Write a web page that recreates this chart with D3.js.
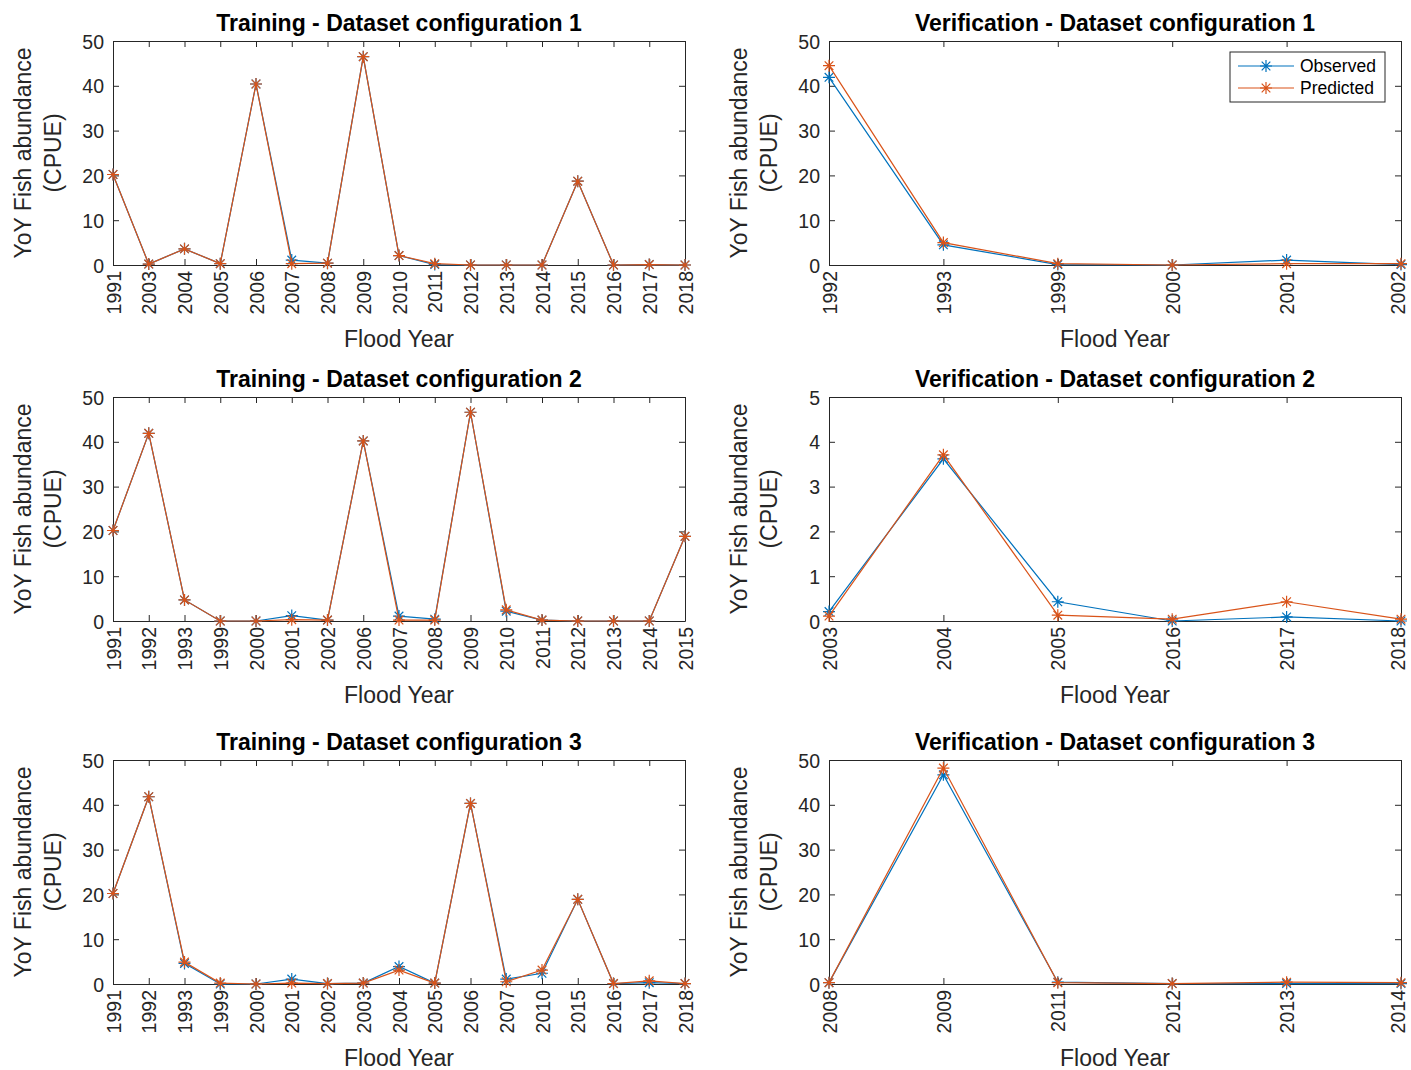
<!DOCTYPE html>
<html>
<head>
<meta charset="utf-8">
<script src="https://cdn.jsdelivr.net/npm/d3@7"></script>
<style>
  body { margin: 0; background: #fff; }
  svg { font-family: "Liberation Sans", Arial, Helvetica, sans-serif; }
</style>
</head>
<body>
<svg id="chart" width="1411" height="1070"></svg>
<script>
// data
let train1Years = ['1991','2003','2004','2005','2006','2007','2008','2009','2010','2011','2012','2013','2014','2015','2016','2017','2018'];
let train1Obs  = [20.2, 0.2, 3.6, 0.3, 40.4, 1.1, 0.4, 46.5, 2.1, 0.1, 0, 0, 0, 18.7, 0, 0.1, 0];
let train1Pred = [20.2, 0.2, 3.6, 0.3, 40.4, 0.3, 0.4, 46.5, 2.1, 0.3, 0, 0, 0, 18.7, 0, 0.1, 0];

let verif1Years = ['1992','1993','1999','2000','2001','2002'];
let verif1Obs  = [41.9, 4.5, 0.1, 0, 1.1, 0.1];
let verif1Pred = [44.5, 5.0, 0.3, 0, 0.3, 0.3];

let train2Years = ['1991','1992','1993','1999','2000','2001','2002','2006','2007','2008','2009','2010','2011','2012','2013','2014','2015'];
let train2Obs  = [20.2, 41.9, 4.7, 0, 0, 1.2, 0.2, 40.2, 1.1, 0.4, 46.6, 2.2, 0.2, 0, 0, 0, 18.9];
let train2Pred = [20.2, 41.9, 4.7, 0, 0, 0.3, 0.2, 40.2, 0.2, 0.2, 46.6, 2.5, 0.2, 0, 0, 0, 18.9];

let verif2Years = ['2003','2004','2005','2016','2017','2018'];
let verif2Obs  = [0.21, 3.62, 0.43, 0, 0.09, 0];
let verif2Pred = [0.11, 3.71, 0.13, 0.04, 0.43, 0.04];

let train3Years = ['1991','1992','1993','1999','2000','2001','2002','2003','2004','2005','2006','2007','2010','2015','2016','2017','2018'];
let train3Obs  = [20.2, 41.8, 4.6, 0, 0, 1.1, 0.1, 0.2, 3.9, 0.2, 40.3, 1.1, 2.4, 18.9, 0.1, 0.3, 0.1];
let train3Pred = [20.2, 41.8, 4.9, 0.2, 0, 0.2, 0.1, 0.2, 3.1, 0.2, 40.3, 0.5, 3.1, 18.9, 0.1, 0.7, 0.1];

let verif3Years = ['2008','2009','2011','2012','2013','2014'];
let verif3Obs  = [0.3, 46.7, 0.4, 0.1, 0.1, 0.1];
let verif3Pred = [0.3, 48.2, 0.3, 0.1, 0.4, 0.3];

let ticks50 = [0, 10, 20, 30, 40, 50];
let ticks5 = [0, 1, 2, 3, 4, 5];

let blue = '#0072BD';
let orange = '#D95319';
let axisColor = '#262626';

let panels = [
  { title: 'Training - Dataset configuration 1', years: train1Years, obs: train1Obs, pred: train1Pred, ymax: 50, ticks: ticks50, col: 0, row: 0 },
  { title: 'Verification - Dataset configuration 1', years: verif1Years, obs: verif1Obs, pred: verif1Pred, ymax: 50, ticks: ticks50, col: 1, row: 0, legend: true },
  { title: 'Training - Dataset configuration 2', years: train2Years, obs: train2Obs, pred: train2Pred, ymax: 50, ticks: ticks50, col: 0, row: 1 },
  { title: 'Verification - Dataset configuration 2', years: verif2Years, obs: verif2Obs, pred: verif2Pred, ymax: 5, ticks: ticks5, col: 1, row: 1 },
  { title: 'Training - Dataset configuration 3', years: train3Years, obs: train3Obs, pred: train3Pred, ymax: 50, ticks: ticks50, col: 0, row: 2 },
  { title: 'Verification - Dataset configuration 3', years: verif3Years, obs: verif3Obs, pred: verif3Pred, ymax: 50, ticks: ticks50, col: 1, row: 2 }
];

let lefts = [113, 829];
let plotW = 572;
let tops = [41, 397, 760];
let plotH = 224;

let svg = d3.select('#chart');

// matlab style '*' marker
let star = r => {
  let d = r * 0.72;
  return `M${-r},0L${r},0M0,${-r}L0,${r}M${-d},${-d}L${d},${d}M${-d},${d}L${d},${-d}`;
};

let drawPanel = p => {
  let x0 = lefts[p.col];
  let y0 = tops[p.row];
  let g = svg.append('g').attr('transform', `translate(${x0},${y0})`);

  let xScale = d3.scalePoint().domain(p.years).range([0, plotW]).padding(0);
  let yScale = d3.scaleLinear().domain([0, p.ymax]).range([plotH, 0]);

  let styleAxis = sel => {
    sel.select('.domain').attr('stroke', axisColor).attr('stroke-width', 1);
    sel.selectAll('.tick line').attr('stroke', axisColor);
    sel.selectAll('text').attr('fill', axisColor).style('font-size', '19.5px');
  };

  let yAxis = g.append('g')
    .call(d3.axisLeft(yScale).tickValues(p.ticks).tickFormat(d3.format('d'))
      .tickSizeInner(-6).tickSizeOuter(0).tickPadding(9))
    .call(styleAxis);
  yAxis.selectAll('text').attr('dy', '0.36em');

  g.append('g').attr('transform', `translate(${plotW},0)`)
    .call(d3.axisRight(yScale).tickValues(p.ticks).tickSizeInner(-6).tickSizeOuter(0).tickFormat(''))
    .call(styleAxis);

  g.append('g')
    .call(d3.axisTop(xScale).tickSizeInner(-6).tickSizeOuter(0).tickFormat(''))
    .call(styleAxis);

  let xAxis = g.append('g').attr('transform', `translate(0,${plotH})`)
    .call(d3.axisBottom(xScale).tickSizeInner(-6).tickSizeOuter(0))
    .call(styleAxis);
  let last = p.years.length - 1;
  xAxis.selectAll('.tick text')
    .attr('transform', 'rotate(-90)')
    .attr('x', -6)
    // keep the right-most label of the right column inside the page
    .attr('y', (d, i) => (p.col === 1 && i === last) ? -4 : 0)
    .attr('dy', '0.36em')
    .attr('text-anchor', 'end');

  g.append('text')
    .attr('x', plotW / 2)
    .attr('y', -10)
    .attr('text-anchor', 'middle')
    .attr('fill', '#000')
    .style('font-size', '23px')
    .style('font-weight', 'bold')
    .text(p.title);

  g.append('text')
    .attr('x', plotW / 2)
    .attr('y', plotH + 82)
    .attr('text-anchor', 'middle')
    .attr('fill', axisColor)
    .style('font-size', '23px')
    .text('Flood Year');

  let yl = g.append('text')
    .attr('transform', `translate(-81,${plotH / 2}) rotate(-90)`)
    .attr('text-anchor', 'middle')
    .attr('fill', axisColor)
    .style('font-size', '23px');
  yl.append('tspan').attr('x', 0).attr('dy', -1).text('YoY Fish abundance');
  yl.append('tspan').attr('x', 0).attr('dy', 30).text('(CPUE)');

  let line = d3.line().x((d, i) => xScale(p.years[i])).y(d => yScale(d));

  [[p.obs, blue], [p.pred, orange]].forEach(([vals, c]) => {
    g.append('path')
      .datum(vals)
      .attr('d', line)
      .attr('fill', 'none')
      .attr('stroke', c)
      .attr('stroke-width', 1.2);
    g.selectAll(null)
      .data(vals)
      .enter()
      .append('path')
      .attr('transform', (d, i) => `translate(${xScale(p.years[i])},${yScale(d)})`)
      .attr('d', star(6))
      .attr('fill', 'none')
      .attr('stroke', c)
      .attr('stroke-width', 1.2);
  });

  if (p.legend) {
    let lg = g.append('g').attr('transform', `translate(${plotW - 171},11)`);
    lg.append('rect')
      .attr('width', 155).attr('height', 50)
      .attr('fill', '#fff').attr('stroke', axisColor).attr('stroke-width', 1);
    [['Observed', blue], ['Predicted', orange]].forEach(([name, c], i) => {
      let yy = 14 + i * 22;
      lg.append('line').attr('x1', 8).attr('x2', 64).attr('y1', yy).attr('y2', yy)
        .attr('stroke', c).attr('stroke-width', 1.2);
      lg.append('path').attr('transform', `translate(36,${yy})`).attr('d', star(6))
        .attr('fill', 'none').attr('stroke', c).attr('stroke-width', 1.2);
      lg.append('text').attr('x', 70).attr('y', yy).attr('dy', '0.35em')
        .attr('fill', '#000')
        .style('font-size', '17.5px').text(name);
    });
  }
};

panels.forEach(drawPanel);
</script>
</body>
</html>
